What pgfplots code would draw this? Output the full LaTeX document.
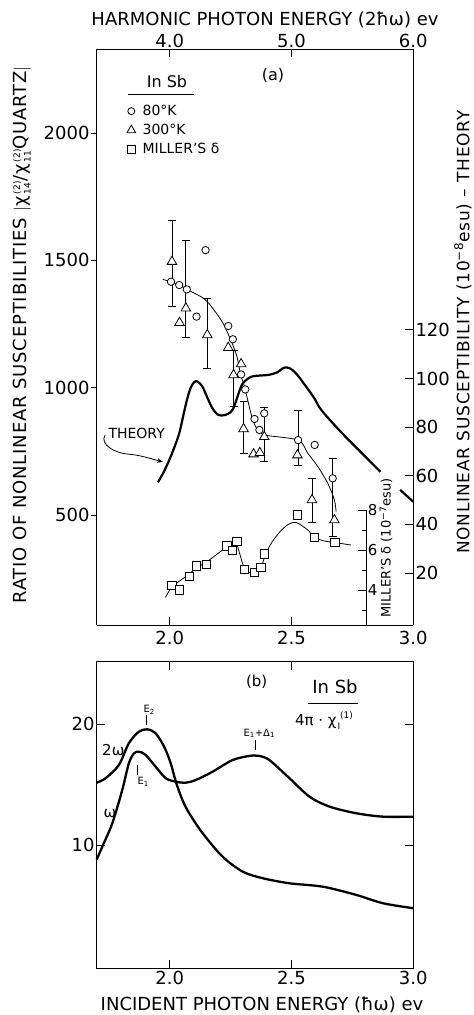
\documentclass[border=0pt]{standalone}
\usepackage{pgfplots}
\pgfplotsset{compat=1.18}
\usepackage{pgfplotstable}
\usepackage{fontspec}
\setmainfont{DejaVu Sans}
\newfontfamily\widefont{DejaVu Sans}[LetterSpace=4.5]
\usetikzlibrary{arrows.meta}

\newcommand\fs[1]{\fontsize{#1}{#1}\selectfont}
% superscript stacked over subscript, kept apart vertically
\newcommand\supsub[2]{\hspace{2pt}\rlap{\raisebox{6.5pt}{\fs{9}#1}}\raisebox{-4pt}{\fs{9}#2}\hspace{1pt}}
% subscript followed by superscript
\newcommand\subsup[2]{\hspace{1pt}\raisebox{-4pt}{\fs{9}#1}\raisebox{6.5pt}{\fs{9}#2}}

% ---------- (a) ratio |chi14/chi11(quartz)|, 80 K ----------
\pgfplotstableread{
E L
2.005 1416
2.039 1403
2.070 1386
2.110 1279
2.147 1540
2.240 1242
2.259 1190
2.293 1052
2.310 993
2.348 877
2.368 834
2.388 899
2.595 775
}\circA
\pgfplotstableread{
E L ep em
2.527 794 115 98
2.669 644 78 229
}\circErr
% ---------- (a) ratio, 300 K ----------
\pgfplotstableread{
E L
2.040 1255
2.240 1157
2.293 1093
2.344 739
2.370 744
2.524 735
2.676 480
}\triA
\pgfplotstableread{
E L ep em
2.009 1495 163 177
2.066 1312 268 116
2.154 1207 144 131
2.262 1050 98 125
2.303 838 107 96
2.388 807 116 98
2.584 559 85 88
}\triErr
% smooth guide through the 80 K points
\pgfplotstableread{
E L
1.971 1425
2.005 1416
2.039 1403
2.070 1386
2.147 1344
2.215 1259
2.256 1174
2.276 1122
2.290 1056
2.305 1010
2.317 964
2.337 886
2.357 840
2.391 814
2.527 794
2.567 742
2.608 690
2.649 624
2.676 559
2.683 513
}\fitA
% ---------- (a) theory, 1e-8 esu ----------
\pgfplotstableread{
E T
1.951 57.3
1.975 61.5
1.998 66.5
2.020 72.0
2.039 77.5
2.055 84.5
2.070 91.0
2.085 96.0
2.100 98.5
2.114 98.8
2.134 96.7
2.155 92.0
2.175 87.8
2.195 85.3
2.215 84.8
2.240 85.5
2.260 87.5
2.283 94.0
2.300 98.0
2.336 100.8
2.405 101.5
2.440 102.5
2.470 104.5
2.493 104.2
2.515 102.5
2.540 99.4
2.593 92.0
2.622 87.1
2.703 78.0
2.784 69.8
2.865 61.6
}\theoryA
\pgfplotstableread{
E T
2.946 54.2
3.000 49.3
}\theoryB
% ---------- (a) Miller's delta, 1e-7 esu ----------
\pgfplotstableread{
E D
2.009 4.23
2.039 4.00
2.080 4.67
2.109 5.20
2.151 5.28
2.235 6.20
2.258 5.97
2.276 6.42
2.307 5.03
2.348 4.87
2.375 5.13
2.389 5.80
2.524 7.75
2.594 6.63
2.679 6.37
}\millerPts
\pgfplotstableread{
E D
1.982 3.63
2.009 4.15
2.040 4.45
2.080 4.80
2.109 5.10
2.151 5.40
2.195 5.80
2.235 6.15
2.262 6.30
2.276 6.25
2.290 5.70
2.307 5.05
2.330 4.85
2.348 4.87
2.375 5.10
2.392 5.75
2.420 6.40
2.459 7.00
2.490 7.30
2.520 7.37
2.567 7.00
2.594 6.63
2.635 6.45
2.679 6.37
2.744 6.25
}\millerCurve
% ---------- (b) 4 pi chi(1) of InSb ----------
\pgfplotstableread{
E V
1.700 15.15
1.736 15.51
1.791 16.61
1.832 18.41
1.873 19.36
1.908 19.56
1.942 19.23
1.977 18.12
2.004 16.75
2.025 15.23
2.052 13.72
2.080 12.62
2.135 10.97
2.217 9.03
2.300 7.79
2.382 7.25
2.492 6.83
2.629 6.55
2.766 5.87
2.876 5.18
3.000 4.77
}\twoOmega
\pgfplotstableread{
E V
1.700 8.80
1.723 9.86
1.764 11.79
1.805 14.55
1.832 16.75
1.853 17.58
1.874 17.71
1.901 17.44
1.942 16.47
1.984 15.51
2.025 15.23
2.066 15.15
2.107 15.37
2.176 16.06
2.258 17.02
2.327 17.36
2.368 17.36
2.409 17.02
2.492 15.51
2.574 13.99
2.656 13.17
2.766 12.62
2.876 12.34
3.000 12.34
}\oneOmega

\begin{document}
\begin{tikzpicture}[x=1pt,y=1pt]
\useasboundingbox (0,0) rectangle (474,1015);
\pgfplotsset{
  every axis/.append style={scale only axis, clip=false, scaled ticks=false,
    /pgf/number format/assume math mode=true,
    axis line style={line width=0.9pt},
    every tick/.style={line width=0.9pt, black},
    major tick length=8pt, minor tick length=5pt,
    tick label style={font=\fs{18}}},
  panelA/.style={at={(96.7pt,390pt)}, anchor=south west, width=316.6pt, height=576pt,
    xmin=1.7, xmax=3.0},
  openmark/.style={only marks, mark options={fill=white, draw=black, line width=0.8pt}},
  errstyle/.style={error bars/.cd, y dir=both, y explicit,
    error bar style={line width=0.8pt},
    error mark options={rotate=90, line width=0.8pt, mark size=4pt}},
}

% theory, right-hand scale
\begin{axis}[panelA, ymin=-1.4, ymax=235.6,
  axis x line=none, axis y line*=right, tick align=inside,
  ytick={20,40,60,80,100,120},
  yticklabel style={inner sep=2pt}]
  \addplot[line width=2.2pt, smooth, tension=0.5] table[x=E,y=T] {\theoryA};
  \addplot[line width=2.2pt] table[x=E,y=T] {\theoryB};
\end{axis}

% Miller's delta data
\begin{axis}[panelA, ymin=2.25, ymax=31.05, axis x line=none, axis y line=none]
  \addplot[line width=0.8pt, smooth, tension=0.5] table[x=E,y=D] {\millerCurve};
  \addplot[openmark, mark=square*, mark size=4.3pt] table[x=E,y=D] {\millerPts};
\end{axis}

% Miller's delta scale
\begin{axis}[at={(356.7pt,390pt)}, anchor=south west, width=10pt, height=115pt,
  xmin=0, xmax=1, ymin=2.25, ymax=8,
  axis x line=none, axis y line*=right, tick align=inside,
  ytick={4,6,8}, minor ytick={3,5,7}, major tick length=9pt,
  tick label style={font=\fs{15}}, yticklabel style={inner sep=1pt}]
\end{axis}

% frame and energy ticks of (a)
\begin{axis}[panelA, ymin=0, ymax=1, axis y line=none,
  axis x line*=bottom, tick align=inside,
  xtick={2.0,2.5,3.0}, xticklabels={2.0,2.5,3.0},
  xticklabel style={inner sep=6pt}]
\end{axis}

% harmonic energy scale on top
\begin{axis}[panelA, xmin=3.4, xmax=6.0, ymin=0, ymax=1, axis y line=none,
  axis x line*=top, tick align=inside,
  xtick={4,5,6}, xticklabels={4.0,5.0,6.0},
  xticklabel style={inner sep=1pt}]
\end{axis}

% ratio of nonlinear susceptibilities
\begin{axis}[panelA, ymin=67.9, ymax=2330,
  axis x line=none, axis y line*=left, tick align=outside, major tick length=6pt,
  ytick={500,1000,1500,2000}, yticklabels={500,1000,1500,2000},
  yticklabel style={inner sep=1pt},
  legend style={at={(0.095,0.908)}, anchor=north west, draw=none, fill=none,
    font=\fs{14}, row sep=1pt, column sep=5pt, inner sep=0pt,
    nodes={inner sep=2pt, text height=11pt, text depth=3pt}},
  legend cell align=left]
  \addlegendimage{openmark, mark=*, mark size=3.5pt}
  \addlegendentry{80°K}
  \addlegendimage{openmark, mark=triangle*, mark size=5pt}
  \addlegendentry{300°K}
  \addlegendimage{openmark, mark=square*, mark size=4pt}
  \addlegendentry{MILLER'S δ}
  \addplot[line width=0.8pt, smooth, tension=0.5, forget plot] table[x=E,y=L] {\fitA};
  \addplot[forget plot, openmark, mark=triangle*, mark size=5.5pt, errstyle]
    table[x=E,y=L,y error plus=ep,y error minus=em] {\triErr};
  \addplot[forget plot, openmark, mark=*, mark size=3.7pt, errstyle]
    table[x=E,y=L,y error plus=ep,y error minus=em] {\circErr};
  \addplot[forget plot, openmark, mark=*, mark size=3.7pt] table[x=E,y=L] {\circA};
  \addplot[forget plot, openmark, mark=triangle*, mark size=5.5pt] table[x=E,y=L] {\triA};
\end{axis}

% panel (a) lettering
\node[font=\fs{18}] at (265,995) {HARMONIC PHOTON ENERGY (2ħω) ev};
\node[font=\fs{16}] at (273,940) {(a)};
\node[font=\fs{16}] at (167,933) {In Sb};
\draw[line width=0.9pt] (128,920.7) -- (194,920.7);
\node[font=\fs{14}] at (136.7,581.7) {THEORY};
\draw[line width=0.8pt, -{Stealth[length=6pt]}] (105,580) to[out=-120,in=175] (127,561) to[out=-5,in=165] (163,553);
\node[font=\widefont\fs{18}, rotate=90] at (22,680)
  {RATIO OF NONLINEAR SUSCEPTIBILITIES $|$χ\supsub{(2)}{14}/χ\supsub{(2)}{11}QUARTZ$|$};
\node[font=\widefont\fs{17}, rotate=90] at (463,683)
  {NONLINEAR SUSCEPTIBILITY (10\textsuperscript{−8}esu) – THEORY};
\node[font=\fs{13}, rotate=90] at (386,467) {MILLER'S δ (10\textsuperscript{−7}esu)};

% panel (b): linear susceptibility at omega and 2 omega
\begin{axis}[at={(96.7pt,47pt)}, anchor=south west, width=316.6pt, height=306.3pt,
  xmin=1.7, xmax=3.0, ymin=-0.17, ymax=25.15,
  tick align=inside, xtick pos=both, ytick pos=both,
  xticklabel pos=left, yticklabel pos=left,
  xtick={2.0,2.5,3.0}, xticklabels={2.0,2.5,3.0},
  ytick={10,20}, yticklabels={10,20},
  yticklabel style={inner sep=2pt}, xticklabel style={inner sep=3pt}]
  \addplot[line width=2.3pt, smooth, tension=0.5] table[x=E,y=V] {\twoOmega};
  \addplot[line width=2.3pt, smooth, tension=0.5] table[x=E,y=V] {\oneOmega};
  \draw[line width=0.8pt] (axis cs:1.904,19.92) -- (axis cs:1.904,20.74);
  \draw[line width=0.8pt] (axis cs:1.867,15.8) -- (axis cs:1.867,16.6);
  \draw[line width=0.8pt] (axis cs:2.351,17.85) -- (axis cs:2.351,18.7);
\end{axis}

\node[font=\fs{15}] at (256.7,333.3) {(b)};
\node[font=\fs{18}, inner sep=1pt] at (335,328.5) {In Sb};
\draw[line width=0.9pt] (308.3,311.7) -- (358.3,311.7);
\node[font=\fs{15}, inner sep=1pt] at (324,294.5) {4π · χ\subsup{I}{(1)}};
\node[font=\fs{10}] at (149.3,305) {E\textsubscript{2}};
\node[font=\fs{10}] at (143.3,233.3) {E\textsubscript{1}};
\node[font=\fs{10}] at (259.3,281.7) {E\textsubscript{1}+Δ\textsubscript{1}};
\node[font=\fs{15}] at (113.3,265) {2ω};
\node[font=\fs{15}] at (110,201.7) {ω};
\node[font=\fs{18}] at (262,10) {INCIDENT PHOTON ENERGY (ħω) ev};
\end{tikzpicture}
\end{document}
